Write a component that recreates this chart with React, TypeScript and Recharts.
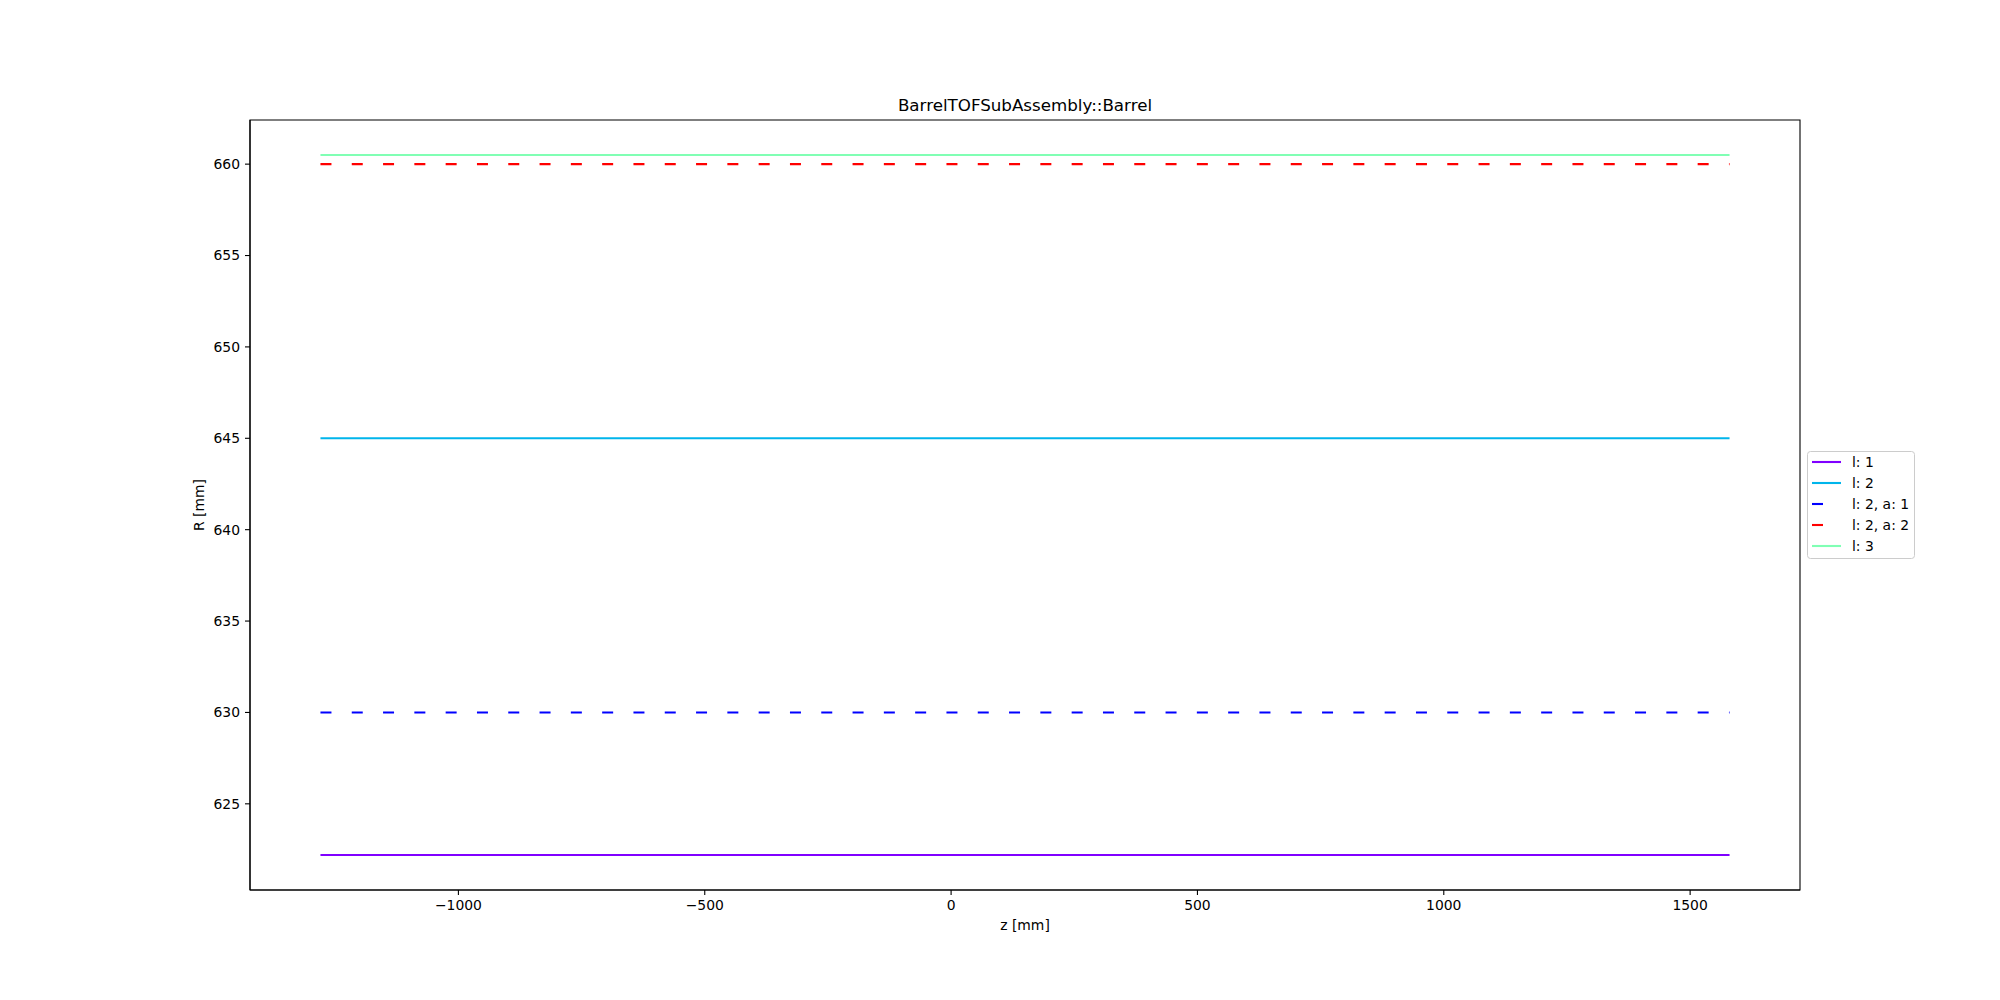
import { LineChart, Line, XAxis, YAxis, ReferenceArea } from 'recharts'

// z extent of every layer (all layers span the same z range)
const zRange = [-1280, 1580]

const seriesNames = ['l: 1', 'l: 2', 'l: 2, a: 1', 'l: 2, a: 2', 'l: 3']
const seriesR = [622.2, 645, 630, 660, 660.5]
const seriesColors = ['#8000ff', '#00b5eb', '#0000ff', '#ff0000', '#80ffb4']
const seriesDashed = [false, false, true, true, false]

const xTicks = [-1000, -500, 0, 500, 1000, 1500]
const yTicks = [625, 630, 635, 640, 645, 650, 655, 660]

const FONT = 'DejaVu Sans, sans-serif'
const DASH = '11 20.3'

// matplotlib-style 5% margins around the data
function padded(min: number, max: number): [number, number] {
  const m = (max - min) * 0.05
  return [min - m, max + m]
}

const xDomain = padded(Math.min(...zRange), Math.max(...zRange))
const yDomain = padded(Math.min(...seriesR), Math.max(...seriesR))

const fmt = (v: number) => String(v).replace('-', '\u2212')

const tickStyle = { fill: '#000', fontSize: 13.9, fontFamily: FONT }

export default function App() {
  const lines = seriesNames.map((name, i) => ({
    name,
    color: seriesColors[i],
    dashed: seriesDashed[i],
    data: zRange.map((z) => ({ z, r: seriesR[i] })),
  }))

  return (
    <div style={{ position: 'absolute', left: 0, top: 0, width: 2000, height: 1000, background: '#fff' }}>
      <LineChart width={2000} height={1000} margin={{ top: 120, right: 200, bottom: 70, left: 180 }}>
        <XAxis
          type="number"
          dataKey="z"
          domain={xDomain}
          allowDataOverflow
          ticks={xTicks}
          tickFormatter={fmt}
          height={40}
          tick={tickStyle}
          tickSize={5}
          tickMargin={5}
          axisLine={{ stroke: '#000', strokeWidth: 1.1 }}
          tickLine={{ stroke: '#000', strokeWidth: 1.1 }}
        />
        <YAxis
          type="number"
          dataKey="r"
          domain={yDomain}
          allowDataOverflow
          ticks={yTicks}
          width={70}
          tick={tickStyle}
          tickSize={5}
          tickMargin={5}
          axisLine={{ stroke: '#000', strokeWidth: 1.1 }}
          tickLine={{ stroke: '#000', strokeWidth: 1.1 }}
        />
        {lines.map((s) => (
          <Line
            key={s.name}
            data={s.data}
            dataKey="r"
            name={s.name}
            type="linear"
            stroke={s.color}
            strokeWidth={2.1}
            strokeDasharray={s.dashed ? DASH : undefined}
            dot={false}
            activeDot={false}
            isAnimationActive={false}
          />
        ))}
        <ReferenceArea
          x1={xDomain[0]}
          x2={xDomain[1]}
          y1={yDomain[0]}
          y2={yDomain[1]}
          fill="none"
          fillOpacity={0}
          stroke="#000"
          strokeWidth={1.1}
        />
      </LineChart>

      <svg
        width={2000}
        height={1000}
        style={{ position: 'absolute', left: 0, top: 0, pointerEvents: 'none', fontFamily: FONT }}
      >
        <text x={1025} y={111} textAnchor="middle" fontSize={16.7} fill="#000">
          BarrelTOFSubAssembly::Barrel
        </text>
        <text x={1025} y={930} textAnchor="middle" fontSize={13.9} fill="#000">
          z [mm]
        </text>
        <text x={204} y={505} textAnchor="middle" fontSize={13.9} fill="#000" transform="rotate(-90 204 505)">
          R [mm]
        </text>

        <rect x={1807.5} y={451.5} width={107} height={107} rx={3} fill="#fff" fillOpacity={0.8} stroke="#cccccc" />
        {lines.map((s, i) => {
          const y = 462 + i * 21
          return (
            <g key={s.name}>
              <line
                x1={1812}
                x2={1841}
                y1={y}
                y2={y}
                stroke={s.color}
                strokeWidth={2.1}
                strokeDasharray={s.dashed ? DASH : undefined}
              />
              <text x={1852} y={y} dominantBaseline="central" fontSize={13.9} fill="#000">
                {s.name}
              </text>
            </g>
          )
        })}
      </svg>
    </div>
  )
}
